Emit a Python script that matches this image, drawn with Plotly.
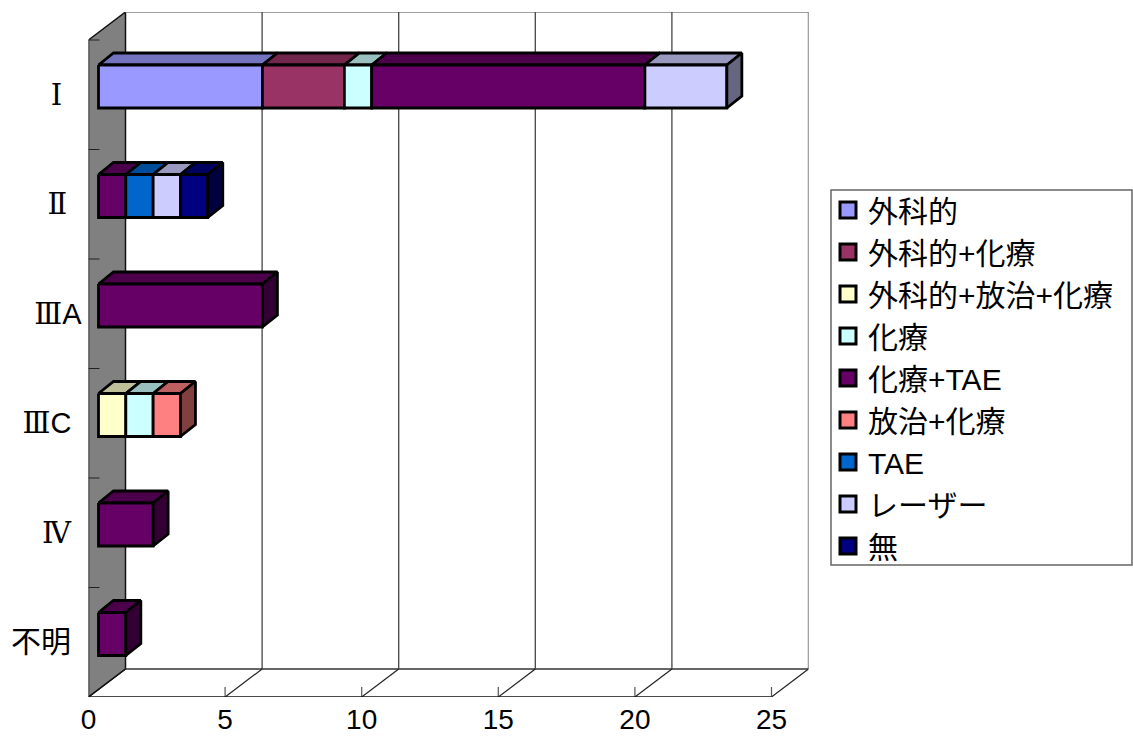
import plotly.graph_objects as go

categories = ["Ⅰ", "Ⅱ", "ⅢA", "ⅢC", "Ⅳ", "不明"]
surgery = [6, 0, 0, 0, 0, 0]
surgery_chemo = [3, 0, 0, 0, 0, 0]
surgery_rad_chemo = [0, 0, 0, 1, 0, 0]
chemo = [1, 0, 0, 1, 0, 0]
chemo_tae = [10, 1, 6, 0, 2, 1]
rad_chemo = [0, 0, 0, 1, 0, 0]
tae = [0, 1, 0, 0, 0, 0]
laser = [3, 1, 0, 0, 0, 0]
none_ = [0, 1, 0, 0, 0, 0]
x_ticks = [0, 5, 10, 15, 20, 25]

series = [
    ("外科的", surgery, (0x99, 0x99, 0xFF)),
    ("外科的+化療", surgery_chemo, (0x99, 0x33, 0x66)),
    ("外科的+放治+化療", surgery_rad_chemo, (0xFF, 0xFF, 0xCC)),
    ("化療", chemo, (0xCC, 0xFF, 0xFF)),
    ("化療+TAE", chemo_tae, (0x66, 0x00, 0x66)),
    ("放治+化療", rad_chemo, (0xFF, 0x80, 0x80)),
    ("TAE", tae, (0x00, 0x66, 0xCC)),
    ("レーザー", laser, (0xCC, 0xCC, 0xFF)),
    ("無", none_, (0x00, 0x00, 0x80)),
]

W, H = 1133, 737
PX_X = 683 / 25
PX_Y = 657 / 6
L, R, T, B = 88.5, 808.5, 12, 697
WALL_DX, WALL_DY = 37, 28
BAR_FRONT = (10, 8.25)
BAR_BACK = (25, 20.25)
BAR_H = 43 / PX_Y
X_MAX = 25 + WALL_DX / PX_X
Y_MIN = -WALL_DY / PX_Y
N = len(categories)


def pr(value, band, depth=(0, 0)):
    return value + depth[0] / PX_X, band - depth[1] / PX_Y


def poly(points):
    xs, ys = zip(*points)
    return list(xs) + [xs[0]], list(ys) + [ys[0]]


def css(rgb, k=1.0):
    return "rgb({},{},{})".format(*[round(c * k) for c in rgb])


fig = go.Figure()


def face(points, fill, line="black", width=2.8):
    x, y = poly(points)
    fig.add_trace(go.Scatter(x=x, y=y, mode="lines", fill="toself", fillcolor=fill,
                             line=dict(color=line, width=width), showlegend=False,
                             hoverinfo="skip", cliponaxis=False))


def seg(p, q, color="black", width=1.5):
    fig.add_trace(go.Scatter(x=[p[0], q[0]], y=[p[1], q[1]], mode="lines",
                             line=dict(color=color, width=width), showlegend=False,
                             hoverinfo="skip", cliponaxis=False))


WALL = (WALL_DX, WALL_DY)
face([pr(0, 0), pr(0, 0, WALL), pr(0, N, WALL), pr(0, N)], "#808080", "#111111", 1.5)
seg(pr(0, 0, WALL), pr(25, 0, WALL), "#808080", 1.5)
seg(pr(0, N, WALL), pr(25, N, WALL), "#333333", 1.5)
for t in x_ticks[1:]:
    seg(pr(t, 0, WALL), pr(t, N, WALL), "#444444", 1.3)
    seg(pr(t, N), pr(t, N, WALL), "#222222", 1.2)
    seg(pr(t, N), pr(t, N, (0, 10)), "#555555", 1.2)
seg(pr(0, N), pr(25, N), "#111111", 1.5)
seg(pr(0, N), pr(0, N, WALL), "#111111", 1.2)
for b in range(N):
    seg(pr(0, b), pr(0, b, (11, 0)), "#222222", 1.2)

for i in range(N):
    start = 0
    top = i + 0.5 - BAR_H / 2
    bot = i + 0.5 + BAR_H / 2
    last = None
    for name, vals, rgb in series:
        v = vals[i]
        if not v:
            continue
        end = start + v
        face([pr(start, top, BAR_FRONT), pr(start, top, BAR_BACK),
              pr(end, top, BAR_BACK), pr(end, top, BAR_FRONT)], css(rgb, 0.75))
        face([pr(start, top, BAR_FRONT), pr(end, top, BAR_FRONT),
              pr(end, bot, BAR_FRONT), pr(start, bot, BAR_FRONT)], css(rgb))
        last = rgb
        start = end
    face([pr(start, top, BAR_FRONT), pr(start, top, BAR_BACK),
          pr(start, bot, BAR_BACK), pr(start, bot, BAR_FRONT)], css(last, 0.5))

for name, vals, rgb in series:
    fig.add_trace(go.Scatter(x=[None], y=[None], mode="markers", name=name,
                             marker=dict(symbol="square", size=16, color=css(rgb),
                                         line=dict(color="black", width=3))))

CJK = "Liberation Sans, Noto Sans CJK JP"
NUM = "<span style=\"font-family:'DejaVu Serif'\">{}</span>"


def pad(count, size):
    return f'<span style="font-size:{size}px">' + "\u00a0" * count + "</span>"


tick_text = [
    NUM.format(categories[0][0]) + pad(3, 23),
    NUM.format(categories[1][0]) + pad(3, 17),
    NUM.format(categories[2][0]) + categories[2][1:],
    NUM.format(categories[3][0]) + categories[3][1:] + pad(2, 18),
    NUM.format(categories[4][0]) + pad(2, 19),
    f'<span style="font-size:30px">{categories[5]}</span>' + pad(2, 19),
]

fig.update_layout(
    width=W, height=H, autosize=False,
    margin=dict(l=0, r=0, t=0, b=0, pad=0),
    paper_bgcolor="white", plot_bgcolor="white",
    font=dict(family=CJK, color="black", size=28),
    shapes=[dict(type="rect", xref="paper", yref="paper", layer="below",
                 x0=831 / W, x1=1132 / W,
                 y0=1 - 190 / H, y1=1 - 565 / H,
                 fillcolor="white", line=dict(color="#666666", width=1.5))],
    legend=dict(x=828 / W, xanchor="left",
                y=1 - 184 / H, yanchor="top",
                bgcolor="rgba(0,0,0,0)", borderwidth=0,
                font=dict(size=30, family=CJK), itemsizing="trace",
                itemclick=False, itemdoubleclick=False),
    xaxis=dict(domain=[L / W, R / W], range=[0, X_MAX], tickmode="array", tickvals=x_ticks,
               ticktext=[str(t) for t in x_ticks], showgrid=False, zeroline=False,
               showline=False, ticks="", tickangle=0, ticklabelstandoff=3,
               automargin=False, tickfont=dict(size=28, family=CJK)),
    yaxis=dict(domain=[1 - B / H, 1 - T / H], range=[N, Y_MIN], tickmode="array",
               tickvals=[i + 0.5 for i in range(N)], ticktext=tick_text,
               showgrid=False, zeroline=False, showline=False, ticks="",
               automargin=False, ticklabelstandoff=6,
               tickfont=dict(size=29, family=CJK)),
)

fig.write_html("out.html", config={"displayModeBar": False},
               post_script="document.body.style.margin='0';")
